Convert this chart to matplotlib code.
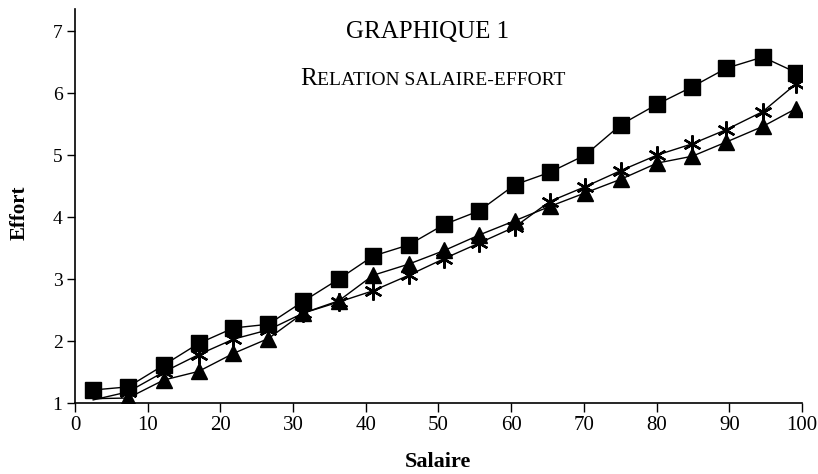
import matplotlib
matplotlib.use("Agg")
import matplotlib.pyplot as plt

# Données
salaire = [2.5, 7.3, 12.2, 17.0, 21.8, 26.6, 31.4, 36.3, 41.0, 45.9, 50.8,
           55.6, 60.5, 65.3, 70.2, 75.1, 80.1, 84.9, 89.6, 94.6, 99.2]
effort_carres = [1.21, 1.26, 1.61, 1.96, 2.21, 2.27, 2.64, 3.00, 3.37, 3.55, 3.88,
                 4.10, 4.52, 4.72, 5.00, 5.49, 5.82, 6.10, 6.40, 6.58, 6.33]
effort_etoiles = [1.05, 1.18, 1.50, 1.78, 2.03, 2.18, 2.45, 2.63, 2.81, 3.06, 3.33,
                  3.58, 3.84, 4.25, 4.49, 4.75, 5.00, 5.18, 5.41, 5.70, 6.15]
effort_triangles = [1.07, 1.08, 1.37, 1.51, 1.80, 2.04, 2.45, 2.65, 3.06, 3.24, 3.46,
                    3.71, 3.94, 4.17, 4.39, 4.61, 4.87, 4.98, 5.21, 5.46, 5.75]

xticks = [0, 10, 20, 30, 40, 50, 60, 70, 80, 90, 100]
yticks = [1, 2, 3, 4, 5, 6, 7]

W, H = 818, 474
fig = plt.figure(figsize=(W / 100, H / 100), dpi=100)
ax = fig.add_axes([75 / W, 1 - 403 / H, 727 / W, (403 - 9.3) / H])

serif = "Liberation Serif"

ax.plot(salaire, effort_etoiles, color="black", lw=1.0, marker=(6, 2, 0),
        ms=13, mew=1.7, markevery=slice(1, None), zorder=2)
ax.plot(salaire, effort_triangles, color="black", lw=1.0, marker="^",
        ms=11, markevery=slice(1, None), zorder=3)
ax.plot(salaire, effort_carres, color="black", lw=1.0, marker="s",
        ms=11.5, zorder=4)

ax.set_xlim(0, 100)
ax.set_ylim(1, 7.35)
ax.set_xticks(xticks)
ax.set_yticks(yticks)
ax.set_xticklabels([str(v) for v in xticks], fontfamily=serif, fontsize=15)
ax.set_yticklabels([str(v) for v in yticks], fontfamily=serif, fontsize=14)
ax.tick_params(axis="x", direction="out", length=6.5, width=1, pad=3)
ax.tick_params(axis="y", direction="out", length=6, width=1, pad=3)

for s in ["top", "right"]:
    ax.spines[s].set_visible(False)
for s in ["left", "bottom"]:
    ax.spines[s].set_linewidth(1.2)

# Titres des axes
fig.text(438 / W, 1 - 467 / H, "Salaire", fontfamily=serif, fontweight="bold",
         fontsize=16, ha="center", va="baseline")
fig.text(20 / W, 1 - 213 / H, "Effort", fontfamily=serif, fontweight="bold",
         fontsize=15, ha="center", va="center", rotation=90)

# Titre et sous-titre (petites capitales)
fig.text(428 / W, 1 - 37.5 / H, "GRAPHIQUE 1", fontfamily=serif, fontsize=18,
         ha="center", va="baseline")
t = fig.text(300 / W, 1 - 85 / H, "R", fontfamily=serif, fontsize=18,
             ha="left", va="baseline")
fig.canvas.draw()
bb = t.get_window_extent()
fig.text(bb.x1 / W, 1 - 85 / H, "ELATION SALAIRE-EFFORT", fontfamily=serif,
         fontsize=14, ha="left", va="baseline")

fig.savefig("out.png", dpi=100)
